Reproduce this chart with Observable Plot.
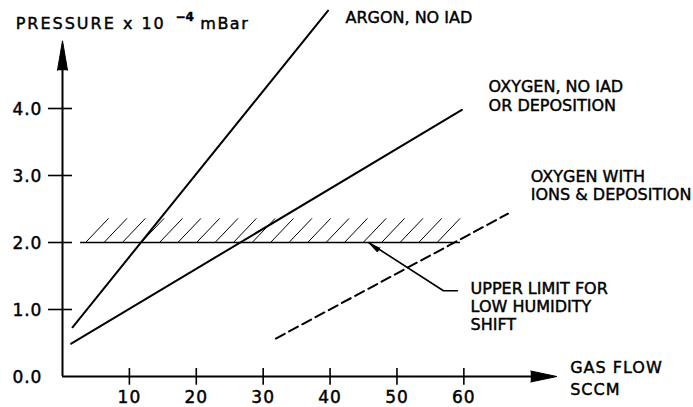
<!DOCTYPE html>
<html><head><meta charset="utf-8">
<script src="https://cdn.jsdelivr.net/npm/d3@7"></script>
<script src="https://cdn.jsdelivr.net/npm/@observablehq/plot@0.6"></script>
<style>html,body{margin:0;padding:0;background:#fff}</style>
</head><body><div id="chart"></div>
<script>
// Series (gas flow in SCCM, pressure x 1e-4 mBar)
const argonFlow = [1.5, 39.7];
const argonPressure = [0.735, 5.46];
const oxygenFlow = [1.3, 59.7];
const oxygenPressure = [0.49, 3.98];
const ionsFlow = [31.9, 66.6];
const ionsPressure = [0.567, 2.43];
// Upper limit band
const limitPressure = 2.0;
const limitTop = 2.36;
const limitFlow = [2.7, 59.5];
const hatchFlow = [3.45, 6.2, 8.95, 11.75, 14.5, 17.25, 20.05, 22.8, 25.55, 28.35, 31.1, 33.85, 36.65, 39.4, 42.15, 44.95, 47.7, 50.45, 53.25, 56.0];
const hatchRun = 3.44;
// Leader to the limit annotation
const pointerFlow = [45.75, 56.95, 59.05];
const pointerPressure = [2.0, 1.28, 1.28];
// Axes
const xTicks = [10, 20, 30, 40, 50, 60];
const xTickLabels = ["10", "20", "30", "40", "50", "60"];
const yTicks = [0, 1, 2, 3, 4];
const yTickLabels = ["0.0", "1.0", "2.0", "3.0", "4.0"];
const xAxisEnd = 73.9;
const yAxisEnd = 5.01;
// Annotation texts
const labelText = ["ARGON, NO IAD", "OXYGEN, NO IAD", "OR DEPOSITION", "OXYGEN WITH", "IONS & DEPOSITION", "UPPER LIMIT FOR", "LOW HUMIDITY", "SHIFT", "GAS FLOW", "SCCM"];
const labelFlow = [42.3, 63.7, 63.7, 70.0, 70.0, 61.0, 61.0, 61.0, 75.9, 75.9];
const labelPressure = [5.28, 4.24, 3.97, 2.90, 2.63, 1.224, 0.963, 0.70, 0.045, -0.28];

const line = (xs, ys) => xs.map((x, i) => ({x, y: ys[i]}));
const labels = labelText.map((t, i) => ({t, x: labelFlow[i], y: labelPressure[i]}));

const xHead = [{x: xAxisEnd - 3.9, y: 0.082}, {x: xAxisEnd, y: 0}, {x: xAxisEnd - 3.9, y: -0.082}];
const yHead = [{x: -0.75, y: yAxisEnd - 0.44}, {x: 0, y: yAxisEnd}, {x: 0.75, y: yAxisEnd - 0.44}];
const pHead = [{x: pointerFlow[0], y: pointerPressure[0]}, {x: 47.07, y: 1.858}, {x: 47.46, y: 1.921}];

const textInk = {fill: "black", stroke: "black", strokeWidth: 0.45};

const svg = Plot.plot({
  width: 693, height: 407,
  marginLeft: 62, marginRight: 136, marginTop: 41, marginBottom: 31,
  x: {domain: [0, 74], axis: null},
  y: {domain: [0, 5], axis: null},
  style: {fontFamily: "DejaVu Sans", fontSize: "16px", background: "white", color: "black", overflow: "visible"},
  marks: [
    // axes
    Plot.ruleX([0], {y1: 0, y2: yAxisEnd - 0.4, stroke: "black", strokeWidth: 2}),
    Plot.ruleY([0], {x1: 0, x2: xAxisEnd - 3.6, stroke: "black", strokeWidth: 2}),
    Plot.line(xHead, {x: "x", y: "y", fill: "black", stroke: "black", strokeWidth: 1}),
    Plot.line(yHead, {x: "x", y: "y", fill: "black", stroke: "black", strokeWidth: 1}),
    Plot.ruleX(xTicks, {x: d => d, y1: -0.13, y2: 0.12, stroke: "black", strokeWidth: 1.6}),
    Plot.ruleY(yTicks.filter(d => d > 0), {y: d => d, x1: -2.1, x2: 1.5, stroke: "black", strokeWidth: 1.6}),
    Plot.text(xTicks, {x: d => d, y: -0.39, text: (d, i) => xTickLabels[i], lineAnchor: "bottom", fontSize: 17, ...textInk}),
    Plot.text(yTicks, {x: -3.0, y: d => d, text: (d, i) => yTickLabels[i], textAnchor: "end", lineAnchor: "middle", dy: 1.5, fontSize: 17, ...textInk}),
    // limit band
    Plot.ruleY([limitPressure], {x1: limitFlow[0], x2: limitFlow[1], stroke: "black", strokeWidth: 1.3}),
    Plot.link(hatchFlow, {x1: d => d, y1: limitPressure, x2: d => d + hatchRun, y2: limitTop, stroke: "black", strokeWidth: 1}),
    // series
    Plot.line(line(argonFlow, argonPressure), {x: "x", y: "y", stroke: "black", strokeWidth: 2}),
    Plot.line(line(oxygenFlow, oxygenPressure), {x: "x", y: "y", stroke: "black", strokeWidth: 2}),
    Plot.line(line(ionsFlow, ionsPressure), {x: "x", y: "y", stroke: "black", strokeWidth: 2, strokeDasharray: "10,5"}),
    // pointer
    Plot.line(line(pointerFlow, pointerPressure), {x: "x", y: "y", stroke: "black", strokeWidth: 1.6}),
    Plot.line(pHead, {x: "x", y: "y", fill: "black", stroke: "black", strokeWidth: 1}),
    // annotations
    Plot.text(labels, {x: "x", y: "y", text: "t", textAnchor: "start", lineAnchor: "bottom", fontSize: 16, ...textInk}),
    // y title
    Plot.text(["PRESSURE x 10"], {x: -7.0, y: 5.19, text: d => d, textAnchor: "start", lineAnchor: "bottom", fontSize: 16, ...textInk}),
    Plot.text(["\u22124"], {x: 16.9, y: 5.31, text: d => d, textAnchor: "start", lineAnchor: "bottom", fontSize: 12, fontWeight: "bold", ...textInk}),
    Plot.text(["mBar"], {x: 20.6, y: 5.19, text: d => d, textAnchor: "start", lineAnchor: "bottom", fontSize: 16, ...textInk})
  ]
});

const spacing = {"PRESSURE x 10": 2, "mBar": 1.5, "GAS FLOW": 1, "SCCM": 1};
xTickLabels.concat(yTickLabels).forEach(t => spacing[t] = 1);
d3.select(svg).selectAll("text").each(function () {
  const s = spacing[this.textContent];
  if (s) this.setAttribute("letter-spacing", s);
});
document.getElementById("chart").appendChild(svg);
</script></body></html>
